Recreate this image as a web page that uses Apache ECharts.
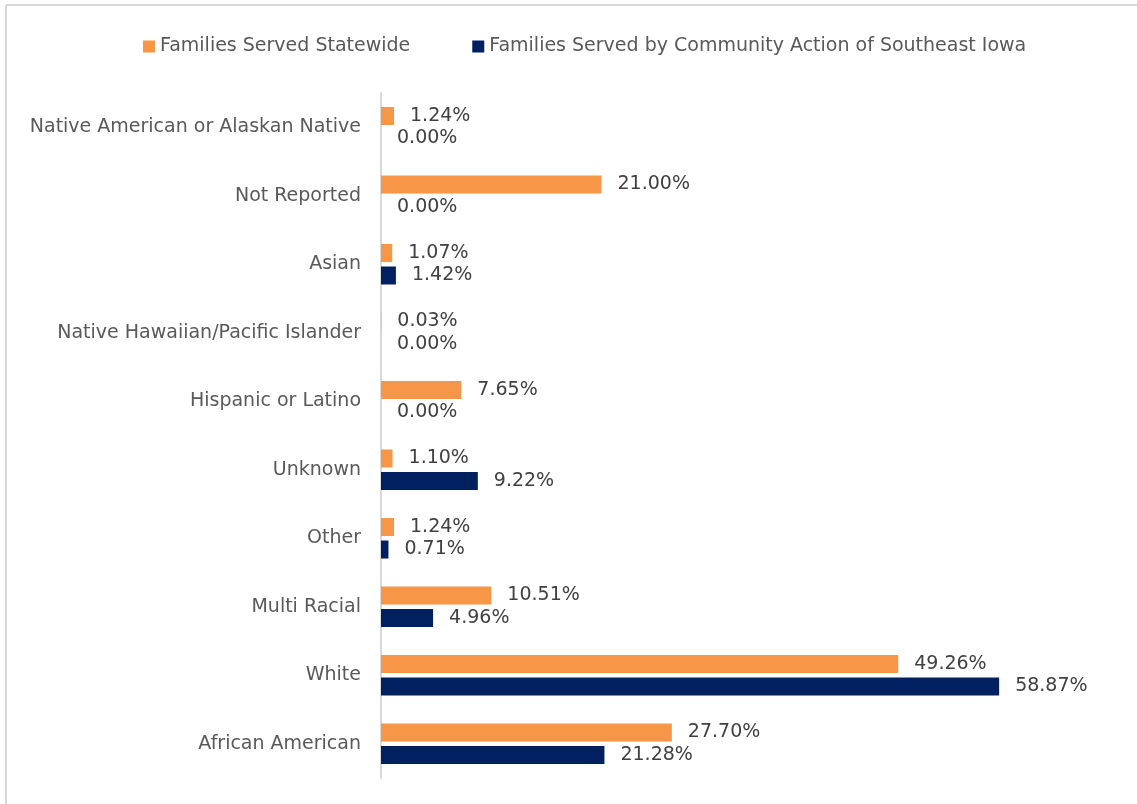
<!DOCTYPE html>
<html>
<head>
<meta charset="utf-8">
<script src="https://cdn.jsdelivr.net/npm/echarts@6/dist/echarts.min.js"></script>
<style>
  html, body { margin: 0; padding: 0; background: #fff; }
  #chart { width: 1137px; height: 804px; }
</style>
</head>
<body>
<div id="chart"></div>
<script>
// categories, bottom to top (category axis starts at bottom)
const categories = [
    'African American', 'White', 'Multi Racial', 'Other', 'Unknown',
    'Hispanic or Latino', 'Native Hawaiian/Pacific Islander', 'Asian',
    'Not Reported', 'Native American or Alaskan Native'
];
const seriesNames = ['Families Served Statewide', 'Families Served by Community Action of Southeast Iowa'];
const statewide = [27.70, 49.26, 10.51, 1.24, 1.10, 7.65, 0.03, 1.07, 21.00, 1.24];
const southeastIowa = [21.28, 58.87, 4.96, 0.71, 9.22, 0.00, 0.00, 1.42, 0.00, 0.00];

const FONT = '"DejaVu Sans", sans-serif';
const TEXT = '#404040';

const chart = echarts.init(document.getElementById('chart'));

function barSeries(name, values, color) {
    return {
        name: name,
        type: 'bar',
        data: values,
        barWidth: 18,
        barGap: '25%',
        itemStyle: { color: color },
        label: {
            show: true,
            position: 'right',
            distance: 16,
            color: TEXT,
            fontFamily: FONT,
            fontSize: 19,
            formatter: p => p.value.toFixed(2) + '%'
        }
    };
}

// outer chart border: only top and left edges are visible in the picture
const borderStyle = { stroke: '#d9d9d9', lineWidth: 2 };

chart.setOption({
    backgroundColor: '#fff',
    animation: false,
    graphic: [
        { type: 'line', shape: { x1: 6, y1: 5, x2: 1137, y2: 5 }, style: borderStyle, silent: true },
        { type: 'line', shape: { x1: 6, y1: 5, x2: 6, y2: 804 }, style: borderStyle, silent: true }
    ],
    legend: {
        top: 32,
        left: 138,
        itemWidth: 12,
        itemHeight: 12,
        itemGap: 62,
        icon: 'rect',
        textStyle: { color: '#595959', fontFamily: FONT, fontSize: 19 },
        data: seriesNames
    },
    grid: { left: 381, right: 126, top: 93, bottom: 26, containLabel: false },
    xAxis: {
        type: 'value',
        min: 0,
        max: 60,
        show: false
    },
    yAxis: {
        type: 'category',
        data: categories,
        axisLine: { show: true, lineStyle: { color: '#d9d9d9', width: 2 } },
        axisTick: { show: false },
        axisLabel: { color: '#595959', fontFamily: FONT, fontSize: 19, margin: 20 }
    },
    series: [
        barSeries(seriesNames[0], statewide, '#F79646'),
        barSeries(seriesNames[1], southeastIowa, '#002060')
    ]
});
</script>
</body>
</html>
